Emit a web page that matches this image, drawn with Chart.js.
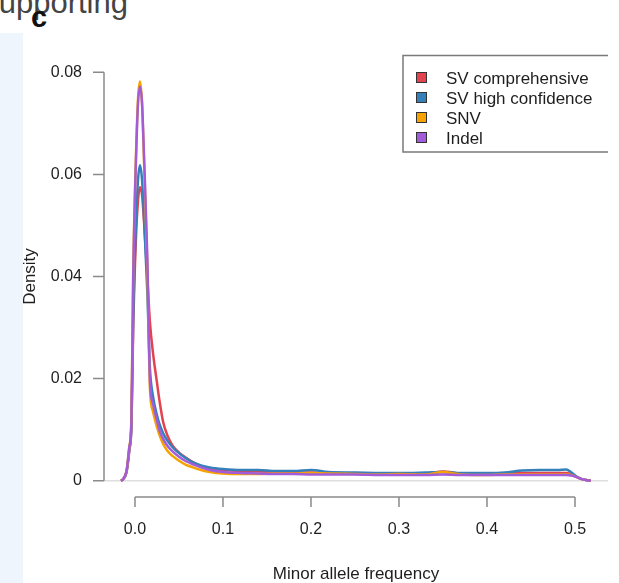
<!DOCTYPE html>
<html>
<head>
<meta charset="utf-8">
<title>Minor allele frequency density</title>
<script src="https://cdn.jsdelivr.net/npm/chart.js@4.4.1/dist/chart.umd.min.js"></script>
<style>
  html, body { margin: 0; padding: 0; background: #fff; }
  #page { position: relative; width: 619px; height: 583px; overflow: hidden; }
  #strip { position: absolute; left: 0; top: 33px; width: 23px; height: 550px; background: #eef5fd; }
  #heading { position: absolute; left: -22px; top: -13px; font: 31px/31px "Liberation Sans", Arial, sans-serif; color: #444; white-space: nowrap; }
  #panel { position: absolute; left: 31px; top: 3px; font: bold 29px/29px "Liberation Sans", Arial, sans-serif; color: #111; }
  #chart { position: absolute; left: 0; top: 0; }
</style>
</head>
<body>
<div id="page">
  <div id="strip"></div>
  <div id="heading">Supporting</div>
  <div id="panel">c</div>
  <canvas id="chart" width="619" height="583"></canvas>
</div>

<script>
/* ==========================================
   DATA
========================================== */

// minor allele frequency grid (density estimate points)
const freq = [
  -0.016, -0.014, -0.0095, -0.0065, -0.004, -0.002, 0.001, 0.0035, 0.0057, 0.008,
  0.0102, 0.014, 0.017, 0.0205, 0.025, 0.028, 0.032, 0.037, 0.043, 0.05,
  0.058, 0.066, 0.075, 0.085, 0.1, 0.12, 0.14, 0.16, 0.18, 0.2,
  0.22, 0.25, 0.28, 0.3, 0.33, 0.35, 0.37, 0.4, 0.42, 0.44,
  0.46, 0.48, 0.49, 0.496, 0.502, 0.508, 0.514, 0.518
];

const svComprehensive = [
  0, 0.0002, 0.0018, 0.0058, 0.011, 0.030, 0.047, 0.055, 0.0575, 0.056,
  0.051, 0.040, 0.031, 0.025, 0.0192, 0.0155, 0.0115, 0.0088, 0.0068, 0.0055,
  0.0045, 0.0036, 0.0028, 0.0024, 0.0021, 0.0019, 0.0018, 0.0017, 0.0016, 0.0016,
  0.0015, 0.0014, 0.0014, 0.0014, 0.0014, 0.0018, 0.0014, 0.0013, 0.0014, 0.0015,
  0.0015, 0.0015, 0.0015, 0.0012, 0.0007, 0.0003, 0.0001, 0
];

const svHighConfidence = [
  0, 0.0002, 0.0018, 0.006, 0.011, 0.032, 0.050, 0.059, 0.0618, 0.059,
  0.052, 0.037, 0.022, 0.0165, 0.0128, 0.0110, 0.0093, 0.0078, 0.0065, 0.0054,
  0.0044, 0.0036, 0.0030, 0.0026, 0.0023, 0.0021, 0.0021, 0.0019, 0.0019, 0.0021,
  0.0017, 0.0016, 0.0015, 0.0015, 0.0016, 0.0017, 0.0015, 0.0015, 0.0016, 0.0020,
  0.0021, 0.0021, 0.0022, 0.0016, 0.0008, 0.0003, 0.0001, 0
];

const snv = [
  0, 0.0002, 0.002, 0.0065, 0.0125, 0.041, 0.063, 0.075, 0.0782, 0.074,
  0.063, 0.042, 0.018, 0.0135, 0.0105, 0.0089, 0.0072, 0.0058, 0.0048, 0.0039,
  0.0031, 0.0026, 0.0021, 0.0017, 0.0014, 0.0013, 0.0013, 0.0014, 0.0014, 0.0015,
  0.0014, 0.0013, 0.0012, 0.0013, 0.0012, 0.0017, 0.0012, 0.0011, 0.0012, 0.0012,
  0.0012, 0.0012, 0.0012, 0.0011, 0.0007, 0.0003, 0.0001, 0
];

const indel = [
  0, 0.0002, 0.002, 0.0065, 0.012, 0.040, 0.062, 0.074, 0.0772, 0.074,
  0.064, 0.044, 0.0196, 0.015, 0.0118, 0.0098, 0.0082, 0.0068, 0.0057, 0.0047,
  0.0038, 0.0032, 0.0026, 0.0021, 0.0017, 0.0015, 0.0014, 0.0013, 0.0013, 0.0012,
  0.0012, 0.0012, 0.0011, 0.0011, 0.0011, 0.0012, 0.0011, 0.0011, 0.0011, 0.0011,
  0.0011, 0.0011, 0.0011, 0.001, 0.0007, 0.0003, 0.0001, 0
];

const seriesLabels = ["SV comprehensive", "SV high confidence", "SNV", "Indel"];
const seriesValues = [svComprehensive, svHighConfidence, snv, indel];
const seriesColors = ["#e3434f", "#3580b8", "#f6a200", "#a35cd9"];
// indel drawn on top, comprehensive SV at the bottom
const seriesOrder = [3, 2, 1, 0];

const xTicks = [0, 0.1, 0.2, 0.3, 0.4, 0.5];
const yTicks = [0, 0.02, 0.04, 0.06, 0.08];

/* ==========================================
   R-STYLE AXES + LEGEND
========================================== */

const AXIS_GREY = "#8a8a8a";

const baseAxes = {
  id: "baseAxes",

  beforeDatasetsDraw(chart) {
    const { ctx, chartArea, scales: { x, y } } = chart;
    const y0 = y.getPixelForValue(0);
    const first = yTicks[0], last = yTicks[yTicks.length - 1];

    ctx.save();

    /* ZERO LINE */
    ctx.strokeStyle = "#dedede";
    ctx.lineWidth = 1.5;
    ctx.beginPath();
    ctx.moveTo(chartArea.left, y0);
    ctx.lineTo(chartArea.right, y0);
    ctx.stroke();

    ctx.strokeStyle = AXIS_GREY;
    ctx.lineWidth = 1.5;

    /* Y AXIS */
    ctx.beginPath();
    ctx.moveTo(chartArea.left, y.getPixelForValue(first));
    ctx.lineTo(chartArea.left, y.getPixelForValue(last));
    yTicks.forEach((v) => {
      const py = y.getPixelForValue(v);
      ctx.moveTo(chartArea.left - 11, py);
      ctx.lineTo(chartArea.left, py);
    });
    ctx.stroke();

    /* X AXIS */
    const bottom = chartArea.bottom;
    ctx.beginPath();
    ctx.moveTo(x.getPixelForValue(xTicks[0]), bottom);
    ctx.lineTo(x.getPixelForValue(xTicks[xTicks.length - 1]), bottom);
    xTicks.forEach((v) => {
      const px = x.getPixelForValue(v);
      ctx.moveTo(px, bottom);
      ctx.lineTo(px, bottom + 10);
    });
    ctx.stroke();

    ctx.restore();
  },

  afterDraw(chart) {
    const { ctx, chartArea } = chart;
    const left = 403, top = chartArea.top - 0.5, bottom = 152;

    ctx.save();

    /* LEGEND BOX */
    ctx.strokeStyle = "#7a7a7a";
    ctx.lineWidth = 1.5;
    ctx.beginPath();
    ctx.moveTo(chartArea.right, top);
    ctx.lineTo(left, top);
    ctx.lineTo(left, bottom);
    ctx.lineTo(chartArea.right, bottom);
    ctx.stroke();

    /* LEGEND ITEMS */
    ctx.font = '17px "Liberation Sans", Arial, sans-serif';
    ctx.textBaseline = "middle";
    ctx.textAlign = "left";
    chart.data.datasets.forEach((ds, i) => {
      const rowY = 79 + i * 20;
      ctx.fillStyle = ds.borderColor;
      ctx.fillRect(416.5, rowY - 6.5, 10, 10);
      ctx.strokeStyle = "#333";
      ctx.lineWidth = 1;
      ctx.strokeRect(416.5, rowY - 6.5, 10, 10);
      ctx.fillStyle = "#1e1e1e";
      ctx.fillText(ds.label, 446, rowY);
    });

    ctx.restore();
  }
};

/* ==========================================
   CHART
========================================== */

Chart.defaults.font.family = '"Liberation Sans", Arial, sans-serif';
Chart.defaults.color = "#1e1e1e";

new Chart(
  document.getElementById("chart"),
  {
    type: "line",

    data: {
      datasets: seriesLabels.map((label, i) => ({
        label: label,
        data: freq.map((f, j) => ({ x: f, y: seriesValues[i][j] })),
        borderColor: seriesColors[i],
        backgroundColor: seriesColors[i],
        borderWidth: 2.5,
        pointRadius: 0,
        cubicInterpolationMode: "monotone",
        order: seriesOrder[i]
      }))
    },

    options: {
      responsive: false,
      animation: false,
      devicePixelRatio: 1,

      layout: {
        padding: { left: 0, right: 11, top: 56, bottom: 0 }
      },

      plugins: {
        legend: { display: false },
        tooltip: { enabled: false }
      },

      scales: {
        x: {
          type: "linear",
          min: -0.0352,
          max: 0.5375,
          afterBuildTicks: (s) => { s.ticks = xTicks.map((v) => ({ value: v })); },
          afterFit: (s) => { s.height = 86; },
          grid: { display: false, drawTicks: false },
          border: { display: false },
          ticks: {
            padding: 23,
            autoSkip: false,
            maxRotation: 0,
            font: { size: 16 },
            callback: (v) => v.toFixed(1)
          },
          title: {
            display: true,
            text: "Minor allele frequency",
            font: { size: 17 },
            padding: { top: 0, bottom: -2 }
          }
        },

        y: {
          type: "linear",
          min: -0.0032,
          max: 0.0832,
          afterBuildTicks: (s) => { s.ticks = yTicks.map((v) => ({ value: v })); },
          afterFit: (s) => { s.width = 104; },
          grid: { display: false, drawTicks: false },
          border: { display: false },
          ticks: {
            padding: 22,
            autoSkip: false,
            font: { size: 16 },
            callback: (v) => (v === 0 ? "0" : v.toFixed(2))
          },
          title: {
            display: true,
            text: "Density",
            font: { size: 17 },
            padding: { top: 20, bottom: 0 }
          }
        }
      }
    },

    plugins: [baseAxes]
  }
);
</script>
</body>
</html>
